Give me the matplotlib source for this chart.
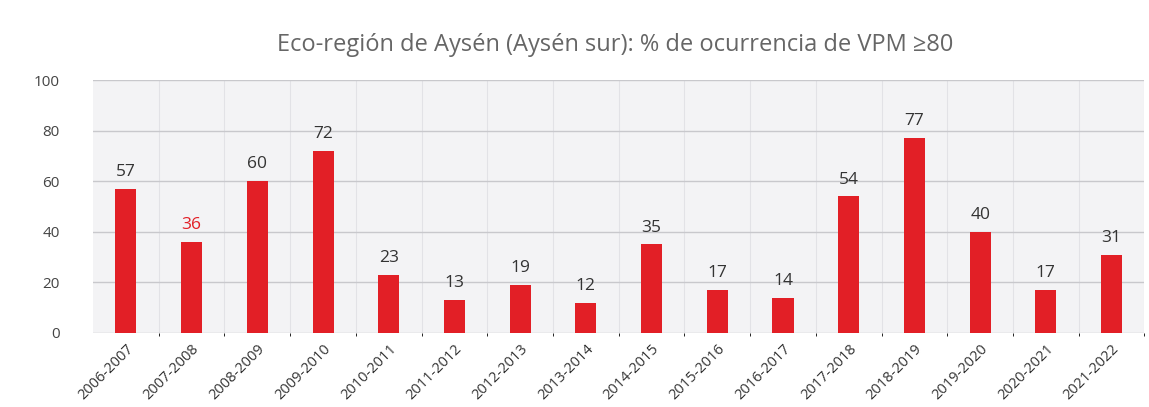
import matplotlib.pyplot as plt
import numpy as np

plt.rcParams['font.family'] = ['Open Sans', 'DejaVu Sans']

# datos
temporadas = ["2006-2007", "2007-2008", "2008-2009", "2009-2010", "2010-2011",
              "2011-2012", "2012-2013", "2013-2014", "2014-2015", "2015-2016",
              "2016-2017", "2017-2018", "2018-2019", "2019-2020", "2020-2021",
              "2021-2022"]
porcentaje = [57, 36, 60, 72, 23, 13, 19, 12, 35, 17, 14, 54, 77, 40, 17, 31]
yticks = [0, 20, 40, 60, 80, 100]

fig = plt.figure(figsize=(11.49, 4.07), dpi=100)
ax = fig.add_axes([0.081, 0.182, 0.915, 0.621])

x = np.arange(len(temporadas))
ax.set_facecolor('#f3f3f5')
ax.bar(x, porcentaje, width=0.32, color='#e21f26', zorder=3)

# etiquetas de valor
for i, v in enumerate(porcentaje):
    col = '#e21f26' if i == 1 else '#333333'
    ax.text(i, v + 3.5, str(v), ha='center', va='bottom', fontsize=12.5, color=col)

ax.set_xlim(-0.5, len(temporadas) - 0.5)
ax.set_ylim(0, 100)
ax.set_yticks(yticks)
ax.set_xticks(x)
ax.set_xticklabels(temporadas, rotation=45, ha='right', rotation_mode='anchor',
                   fontsize=10.5, color='#333333')
ax.tick_params(axis='y', labelsize=11, labelcolor='#444444', length=0, pad=24)
ax.tick_params(axis='x', length=0, pad=6)

ax.grid(axis='y', color='#c8c8cc', linewidth=1, zorder=0)
ax.set_xticks(x + 0.5, minor=True)
ax.grid(axis='x', which='minor', color='#e2e2e6', linewidth=0.8, zorder=0)
for s in ax.spines.values():
    s.set_visible(False)

fig.text(0.535, 0.89, 'Eco-región de Aysén (Aysén sur): % de ocurrencia de VPM ≥80',
         ha='center', va='center', fontsize=17, color='#666666')

fig.savefig('out.png', dpi=100)
